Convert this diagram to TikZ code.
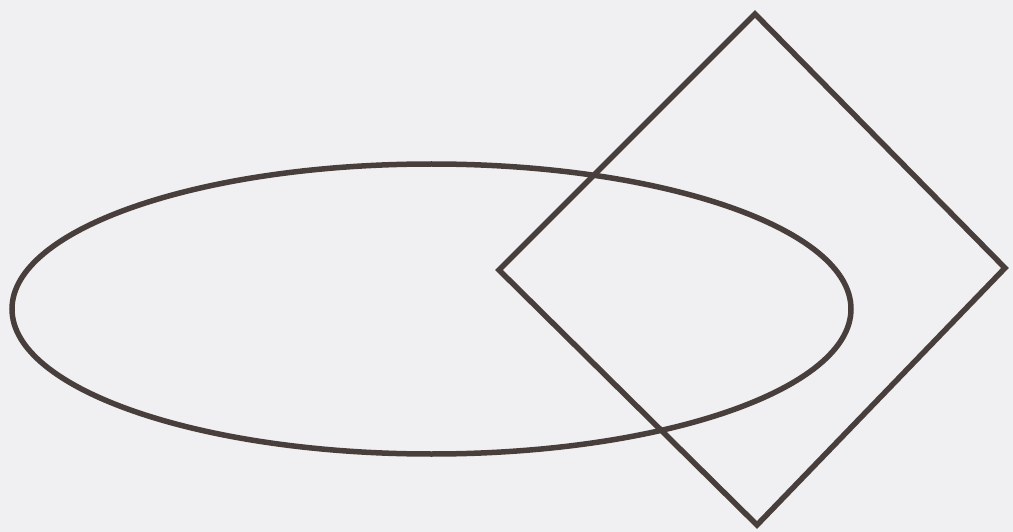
\documentclass[tikz,border=0pt]{standalone}
\definecolor{inkc}{RGB}{72,62,60}
\definecolor{paperc}{RGB}{240,240,242}
\begin{document}
\begin{tikzpicture}[x=1pt,y=-1pt,
  shape line/.style={draw=inkc, line width=5.5pt, line join=miter}]
\fill[paperc] (0,0) rectangle (1013,532);
\useasboundingbox (0,0) rectangle (1013,532);
\draw[shape line] (431.5,309) ellipse [x radius=419.5, y radius=145];
\coordinate (t) at (755,14);
\coordinate (r) at (1005,268);
\coordinate (b) at (757,525);
\coordinate (l) at (499,270);
\draw[shape line] (t) -- (r) -- (b) -- (l) -- cycle;
\end{tikzpicture}
\end{document}
